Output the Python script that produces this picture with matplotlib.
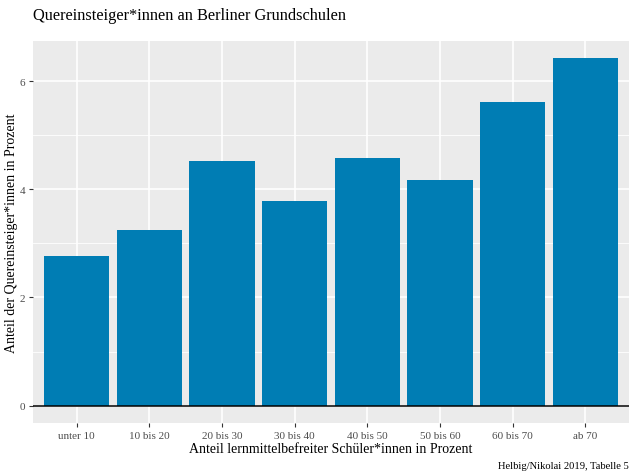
import matplotlib
matplotlib.use("Agg")
import matplotlib.pyplot as plt
import numpy as np

categories = ["unter 10", "10 bis 20", "20 bis 30", "30 bis 40", "40 bis 50", "50 bis 60", "60 bis 70", "ab 70"]
values = [2.77, 3.25, 4.52, 3.78, 4.58, 4.17, 5.61, 6.42]

plt.rcParams['font.family'] = ['Liberation Serif', 'DejaVu Serif']

fig = plt.figure(figsize=(6.36, 4.77), dpi=100)
ax = fig.add_axes([33/636, 1-424/477, (629-33)/636, (424-42)/477])
ax.set_facecolor('#EBEBEB')
x = np.arange(1, len(categories)+1)
ax.set_xlim(0.4, len(categories)+0.6)
vmax = max(values)
ax.set_ylim(-0.05*vmax, vmax*1.05)

for yv in [1, 3, 5]:
    ax.axhline(yv, color='white', lw=0.6, zorder=0)
for yv in [0, 2, 4, 6]:
    ax.axhline(yv, color='white', lw=1.2, zorder=0)
for xv in x:
    ax.axvline(xv, color='white', lw=1.2, zorder=0)

ax.bar(x, values, width=0.9, color='#007DB4', zorder=2)
ax.axhline(0, color='black', lw=1.1, zorder=3)

ax.set_xticks(x)
ax.set_xticklabels(categories)
ax.set_yticks([0, 2, 4, 6])
ax.set_yticklabels(['0', '2', '4', '6'])
ax.tick_params(axis='both', colors='#333333', labelcolor='#4D4D4D', labelsize=8, length=3, width=0.8, pad=2.5)
for s in ax.spines.values():
    s.set_visible(False)

ax.set_xlabel('Anteil lernmittelbefreiter Schüler*innen in Prozent', fontsize=10, labelpad=1.5)
ax.set_ylabel('Anteil der Quereinsteiger*innen in Prozent', fontsize=10, labelpad=1)
fig.text(33/636, 1-20/477, 'Quereinsteiger*innen an Berliner Grundschulen', fontsize=11.8, ha='left', va='baseline')
fig.text(629/636, 1-469/477, 'Helbig/Nikolai 2019, Tabelle 5', fontsize=7.6, ha='right', va='baseline')

fig.savefig('out.png', dpi=100)
